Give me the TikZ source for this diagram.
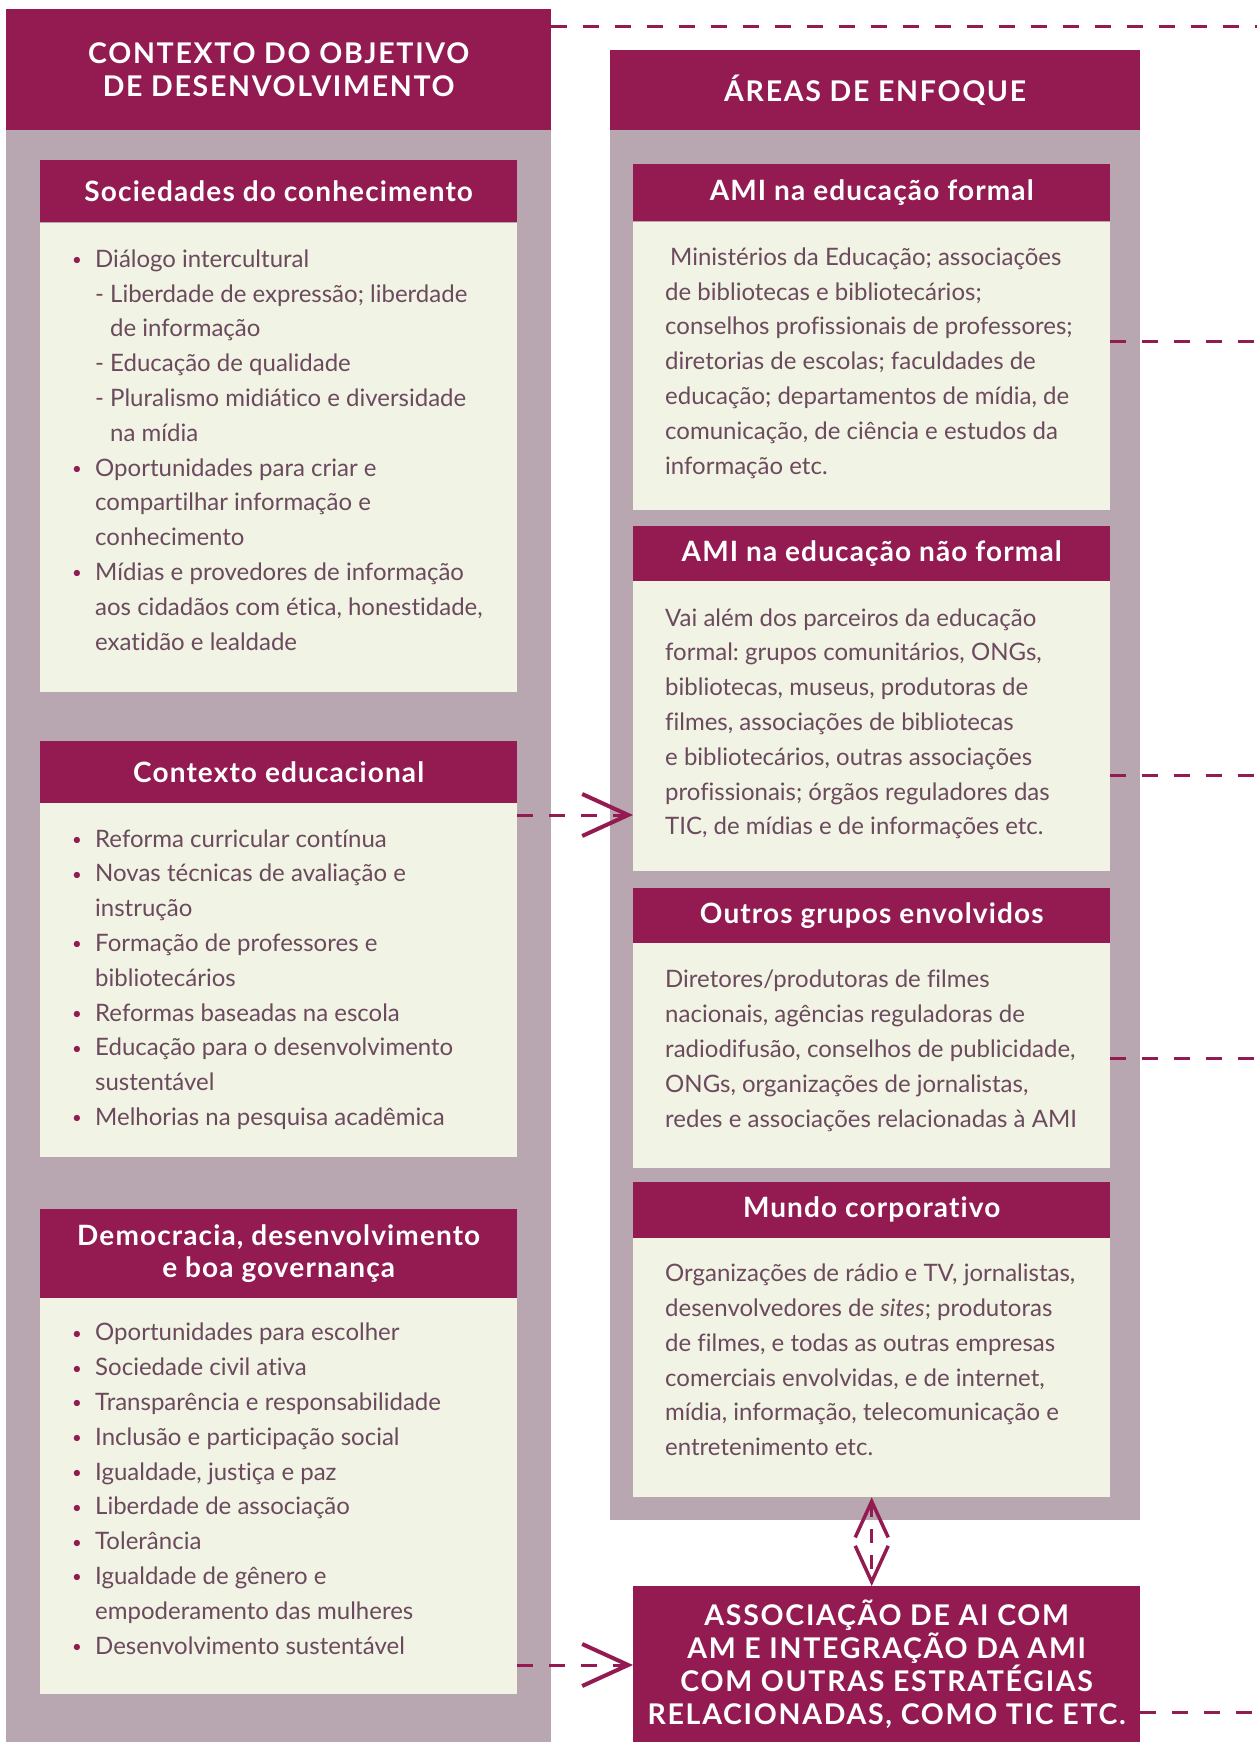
\documentclass[tikz,border=0pt]{standalone}
\usepackage{fontspec}
\setmainfont{Lato}[Ligatures=NoCommon]
\frenchspacing
\usetikzlibrary{positioning,arrows.meta}
\definecolor{bordo}{RGB}{147,27,81}
\definecolor{malva}{RGB}{184,166,177}
\definecolor{creme}{RGB}{241,243,228}
\definecolor{texto}{RGB}{108,74,94}
\newcommand{\bodyfont}{\fontsize{24}{34.8}\selectfont}
\newcommand{\headfont}{\fontsize{28}{32}\selectfont\bfseries\addfontfeature{LetterSpace=4}}
\newcommand{\titlefont}{\fontsize{28.5}{33}\selectfont\bfseries\addfontfeature{LetterSpace=6}}
\newcommand{\bul}{\makebox[23pt][l]{\textcolor{bordo}{\raisebox{1.5pt}{\scalebox{0.7}{\textbullet}}}}}
\newcommand{\ind}{\hspace*{23pt}}
\newcommand{\sub}{\makebox[15pt][l]{-}}
\tikzset{coluna/.style={fill=malva,anchor=north west,inner sep=0pt}}
\tikzset{titulo/.style={fill=bordo,text=white,anchor=north west,inner sep=0pt,align=center,font=\titlefont}}
\tikzset{cab/.style={fill=bordo,text=white,anchor=north west,inner sep=0pt,minimum width=477pt,align=center,font=\headfont}}
\tikzset{corpo/.style={fill=creme,anchor=north west,inner sep=0pt,minimum width=477pt}}
\tikzset{txt/.style={anchor=north west,inner sep=0pt,align=left,text=texto,font=\bodyfont,execute at begin node=\strut}}
\tikzset{link/.style={draw=bordo,line width=3pt,dash pattern=on 16pt off 16pt}}
\tikzset{>={Straight Barb[length=46pt,width=42pt,line width=4pt]}}

\begin{document}
\begin{tikzpicture}[x=1pt,y=-1pt]
    \useasboundingbox (0,0) rectangle (1257,1742);

    % colunas
    \node (LC) [coluna,minimum width=545pt,minimum height=1612pt] at (6,130) {};
    \node (LT) [titulo,minimum width=545pt,minimum height=121pt] at (6,9) {CONTEXTO DO OBJETIVO\\DE DESENVOLVIMENTO};
    \node (RC) [coluna,minimum width=530pt,minimum height=1390pt] at (610,130) {};
    \node (RT) [titulo,minimum width=530pt,minimum height=80pt] at (610,50) {ÁREAS DE ENFOQUE};

    % lado esquerdo
    \node (L1h) [cab,minimum height=62pt] at (40,160) {Sociedades do conhecimento};
    \node (L1b) [corpo,minimum height=469pt,below=0pt of L1h] {};
    \node (L2h) [cab,minimum height=62pt,below=49pt of L1b] {Contexto educacional};
    \node (L2b) [corpo,minimum height=354pt,below=0pt of L2h] {};
    \node (L3h) [cab,minimum height=89pt,below=51pt of L2b] {Democracia, desenvolvimento\\e boa governança};
    \node (L3b) [corpo,minimum height=396pt,below=0pt of L3h] {};

    \node (L1t) [txt] at ([shift={(32,27)}]L1b.north west) {\bul Diálogo intercultural\\
        \ind\sub Liberdade de expressão; liberdade\\
        \ind\hspace*{15pt}de informação\\
        \ind\sub Educação de qualidade\\
        \ind\sub Pluralismo midiático e diversidade\\
        \ind\hspace*{15pt}na mídia\\
        \bul Oportunidades para criar e\\
        \ind compartilhar informação e\\
        \ind conhecimento\\
        \bul Mídias e provedores de informação\\
        \ind aos cidadãos com ética, honestidade,\\
        \ind exatidão e lealdade};
    \node (L2t) [txt] at ([shift={(32,26)}]L2b.north west) {\bul Reforma curricular contínua\\
        \bul Novas técnicas de avaliação e\\
        \ind instrução\\
        \bul Formação de professores e\\
        \ind bibliotecários\\
        \bul Reformas baseadas na escola\\
        \bul Educação para o desenvolvimento\\
        \ind sustentável\\
        \bul Melhorias na pesquisa acadêmica};
    \node (L3t) [txt] at ([shift={(32,25)}]L3b.north west) {\bul Oportunidades para escolher\\
        \bul Sociedade civil ativa\\
        \bul Transparência e responsabilidade\\
        \bul Inclusão e participação social\\
        \bul Igualdade, justiça e paz\\
        \bul Liberdade de associação\\
        \bul Tolerância\\
        \bul Igualdade de gênero e\\
        \ind empoderamento das mulheres\\
        \bul Desenvolvimento sustentável};

    % lado direito
    \node (R1h) [cab,minimum height=57pt] at (633,164) {AMI na educação formal};
    \node (R1b) [corpo,minimum height=288pt,below=0pt of R1h] {};
    \node (R2h) [cab,minimum height=55pt,below=16pt of R1b] {AMI na educação não formal};
    \node (R2b) [corpo,minimum height=290pt,below=0pt of R2h] {};
    \node (R3h) [cab,minimum height=55pt,below=16pt of R2b] {Outros grupos envolvidos};
    \node (R3b) [corpo,minimum height=225pt,below=0pt of R3h] {};
    \node (R4h) [cab,minimum height=56pt,below=13pt of R3b] {Mundo corporativo};
    \node (R4b) [corpo,minimum height=259pt,below=0pt of R4h] {};

    \node (R1t) [txt] at ([shift={(32,26)}]R1b.north west) {\hspace*{5pt}Ministérios da Educação; associações\\
        de bibliotecas e bibliotecários;\\
        conselhos profissionais de professores;\\
        diretorias de escolas; faculdades de\\
        educação; departamentos de mídia, de\\
        comunicação, de ciência e estudos da\\
        informação etc.};
    \node (R2t) [txt] at ([shift={(32,27)}]R2b.north west) {Vai além dos parceiros da educação\\
        formal: grupos comunitários, ONGs,\\
        bibliotecas, museus, produtoras de\\
        filmes, associações de bibliotecas\\
        e bibliotecários, outras associações\\
        profissionais; órgãos reguladores das\\
        TIC, de mídias e de informações etc.};
    \node (R3t) [txt] at ([shift={(32,27)}]R3b.north west) {Diretores/produtoras de filmes\\
        nacionais, agências reguladoras de\\
        radiodifusão, conselhos de publicidade,\\
        ONGs, organizações de jornalistas,\\
        redes e associações relacionadas à AMI};
    \node (R4t) [txt] at ([shift={(32,26)}]R4b.north west) {Organizações de rádio e TV, jornalistas,\\
        desenvolvedores de \textit{sites}; produtoras\\
        de filmes, e todas as outras empresas\\
        comerciais envolvidas, e de internet,\\
        mídia, informação, telecomunicação e\\
        entretenimento etc.};

    \node (B) [titulo,minimum width=507pt,minimum height=156pt] at (633,1586) {ASSOCIAÇÃO DE AI COM\\AM E INTEGRAÇÃO DA AMI\\COM OUTRAS ESTRATÉGIAS\\RELACIONADAS, COMO TIC ETC.};

    % ligacoes
    \coordinate (d0) at (1257,27);
    \coordinate (d1) at (1257,341);
    \coordinate (d2) at (1257,775);
    \coordinate (d3) at (1257,1058);
    \coordinate (d4) at (1257,1712);
    \draw [link] (LT.east |- d0) -- (d0);
    \draw [link] (R1b.east |- d1) -- (d1);
    \draw [link] (R2b.east |- d2) -- (d2);
    \draw [link] (R3b.east |- d3) -- (d3);
    \draw [link] (B.east |- d4) -- (d4);

    \coordinate (a1) at (0,815);
    \coordinate (a2) at (0,1665);
    \draw [link,->] (L2b.east |- a1) -- (R2b.west |- a1);
    \draw [link,->] (L3b.east |- a2) -- (B.west |- a2);
    \draw [link,dash pattern=on 14pt off 12pt,{Straight Barb[length=36pt,width=33pt,line width=3.5pt]}-{Straight Barb[length=36pt,width=33pt,line width=3.5pt]}] (R4b.south) -- (R4b.south |- B.north);
\end{tikzpicture}
\end{document}
